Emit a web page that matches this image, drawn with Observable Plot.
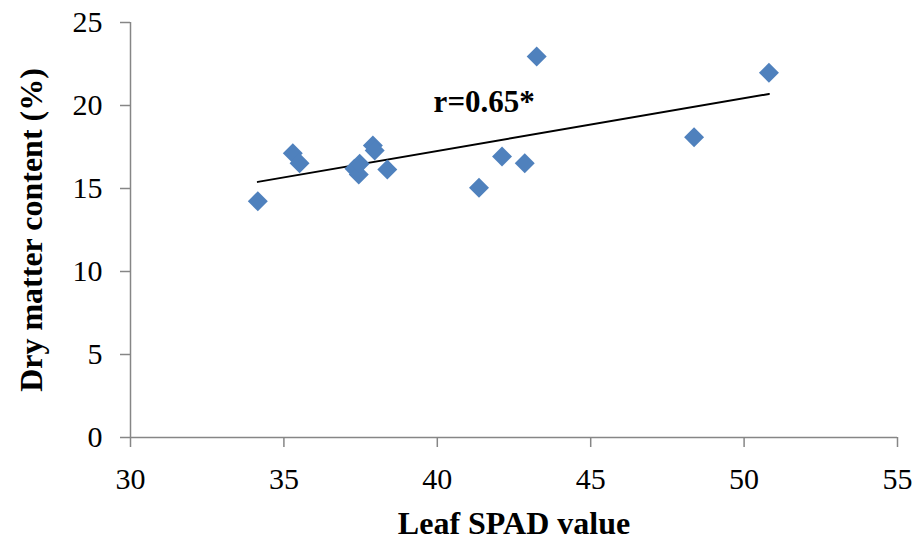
<!DOCTYPE html>
<html>
<head>
<meta charset="utf-8">
<script src="https://cdn.jsdelivr.net/npm/d3@7"></script>
<script src="https://cdn.jsdelivr.net/npm/@observablehq/plot@0.6"></script>
<style>
  html, body { margin: 0; padding: 0; background: white; }
</style>
</head>
<body>
<div id="chart"></div>
<script>
const spad      = [34.15, 35.29, 35.51, 37.30, 37.44, 37.47, 37.90, 37.96, 38.37, 41.36, 42.11, 42.85, 43.24, 48.37, 50.81];
const dryMatter = [14.23, 17.13, 16.52, 16.19, 15.84, 16.49, 17.59, 17.29, 16.14, 15.04, 16.93, 16.52, 22.95, 18.09, 21.97];
const xTicks = [30, 35, 40, 45, 50, 55];
const yTicks = [0, 5, 10, 15, 20, 25];
const xTitle = "Leaf SPAD value";
const yTitle = "Dry matter content (%)";
const annotation = [{x: 39.88, y: 20.18, label: "r=0.65*"}];

const data = spad.map((x, i) => ({x, y: dryMatter[i]}));
const axisGray = "#868686";

const chart = Plot.plot({
  width: 919,
  height: 551,
  marginLeft: 130,
  marginRight: 22,
  marginTop: 22,
  marginBottom: 114,
  style: {fontFamily: "'Liberation Serif', 'Times New Roman', serif", background: "white", color: "black"},
  x: {domain: [30, 55]},
  y: {domain: [0, 25]},
  marks: [
    Plot.ruleY([0], {stroke: axisGray, strokeWidth: 1.5}),
    Plot.ruleX([30], {stroke: axisGray, strokeWidth: 1.5}),
    Plot.axisX({ticks: xTicks, tickSize: 10, tickPadding: 20, stroke: axisGray, fill: "black", fontSize: 30, label: null, strokeWidth: 1.5}),
    Plot.axisY({ticks: yTicks, tickSize: 10, tickPadding: 18, stroke: axisGray, fill: "black", fontSize: 30, label: null, strokeWidth: 1.5}),
    Plot.text([xTitle], {frameAnchor: "bottom", dy: 96, fontSize: 32, fontWeight: "bold", fill: "black"}),
    Plot.text([yTitle], {frameAnchor: "left", textAnchor: "middle", dx: -99, rotate: -90, fontSize: 32, fontWeight: "bold", fill: "black"}),
    Plot.linearRegressionY(data, {x: "x", y: "y", ci: 0, stroke: "black", strokeWidth: 2}),
    Plot.dot(data, {x: "x", y: "y", symbol: "diamond2", r: 9, fill: "#4F81BD", stroke: "none"}),
    Plot.text(annotation, {x: "x", y: "y", text: "label", textAnchor: "start", fontSize: 31, fontWeight: "bold", fill: "black"})
  ]
});
document.getElementById("chart").appendChild(chart);
</script>
</body>
</html>
